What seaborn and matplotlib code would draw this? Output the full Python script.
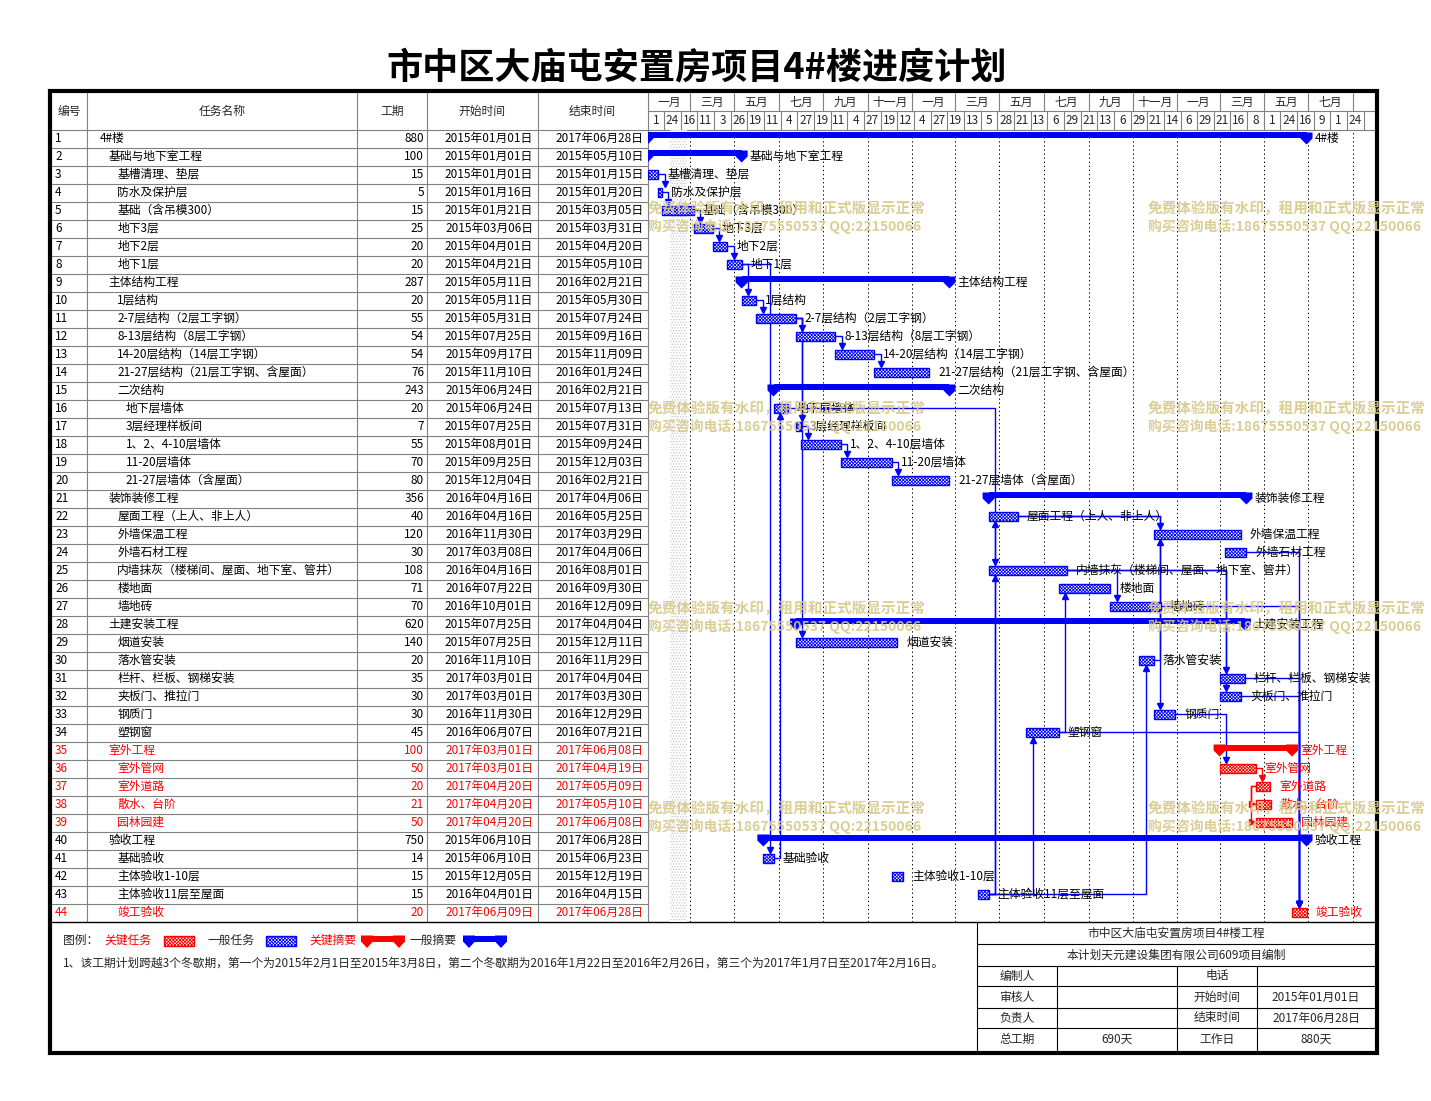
import numpy as np
import pandas as pd
import matplotlib
matplotlib.use('Agg')
import matplotlib.pyplot as plt
import seaborn as sns
from matplotlib.path import Path
from matplotlib.patches import Rectangle, Polygon

# ---------------- data ----------------
task_names = [
    '4#楼', '基础与地下室工程', '基槽清理、垫层', '防水及保护层', '基础（含吊模300）',
    '地下3层', '地下2层', '地下1层', '主体结构工程', '1层结构',
    '2-7层结构（2层工字钢）', '8-13层结构（8层工字钢）', '14-20层结构（14层工字钢）',
    '21-27层结构（21层工字钢、含屋面）', '二次结构', '地下层墙体', '3层经理样板间',
    '1、2、4-10层墙体', '11-20层墙体', '21-27层墙体（含屋面）', '装饰装修工程',
    '屋面工程（上人、非上人）', '外墙保温工程', '外墙石材工程',
    '内墙抹灰（楼梯间、屋面、地下室、管井）', '楼地面', '墙地砖', '土建安装工程',
    '烟道安装', '落水管安装', '栏杆、栏板、钢梯安装', '夹板门、推拉门', '钢质门', '塑钢窗',
    '室外工程', '室外管网', '室外道路', '散水、台阶', '园林园建', '验收工程',
    '基础验收', '主体验收1-10层', '主体验收11层至屋面', '竣工验收']
durations = [880, 100, 15, 5, 15, 25, 20, 20, 287, 20, 55, 54, 54, 76, 243, 20, 7, 55, 70, 80,
             356, 40, 120, 30, 108, 71, 70, 620, 140, 20, 35, 30, 30, 45, 100, 50, 20, 21, 50,
             750, 14, 15, 15, 20]
start_dates = [
    '2015-01-01', '2015-01-01', '2015-01-01', '2015-01-16', '2015-01-21', '2015-03-06',
    '2015-04-01', '2015-04-21', '2015-05-11', '2015-05-11', '2015-05-31', '2015-07-25',
    '2015-09-17', '2015-11-10', '2015-06-24', '2015-06-24', '2015-07-25', '2015-08-01',
    '2015-09-25', '2015-12-04', '2016-04-16', '2016-04-16', '2016-11-30', '2017-03-08',
    '2016-04-16', '2016-07-22', '2016-10-01', '2015-07-25', '2015-07-25', '2016-11-10',
    '2017-03-01', '2017-03-01', '2016-11-30', '2016-06-07', '2017-03-01', '2017-03-01',
    '2017-04-20', '2017-04-20', '2017-04-20', '2015-06-10', '2015-06-10', '2015-12-05',
    '2016-04-01', '2017-06-09']
end_dates = [
    '2017-06-28', '2015-05-10', '2015-01-15', '2015-01-20', '2015-03-05', '2015-03-31',
    '2015-04-20', '2015-05-10', '2016-02-21', '2015-05-30', '2015-07-24', '2015-09-16',
    '2015-11-09', '2016-01-24', '2016-02-21', '2015-07-13', '2015-07-31', '2015-09-24',
    '2015-12-03', '2016-02-21', '2017-04-06', '2016-05-25', '2017-03-29', '2017-04-06',
    '2016-08-01', '2016-09-30', '2016-12-09', '2017-04-04', '2015-12-11', '2016-11-29',
    '2017-04-04', '2017-03-30', '2016-12-29', '2016-07-21', '2017-06-08', '2017-04-19',
    '2017-05-09', '2017-05-10', '2017-06-08', '2017-06-28', '2015-06-23', '2015-12-19',
    '2016-04-15', '2017-06-28']
levels = [0, 1, 2, 2, 2, 2, 2, 2, 1, 2, 2, 2, 2, 2, 2, 3, 3, 3, 3, 3, 1, 2, 2, 2, 2, 2, 2,
          1, 2, 2, 2, 2, 2, 2, 1, 2, 2, 2, 2, 1, 2, 2, 2, 2]
summary_rows = [1, 2, 9, 15, 21, 28, 35, 40]
critical_rows = [35, 36, 37, 38, 39, 44]
links_fs = [(3, 4), (4, 5), (5, 6), (6, 7), (7, 8), (8, 10), (10, 11), (11, 12), (12, 13),
            (13, 14), (8, 41), (41, 16), (11, 17), (11, 29), (17, 18), (18, 19), (19, 20),
            (16, 25), (43, 22), (43, 25), (43, 30), (43, 34), (22, 23), (22, 33), (30, 23),
            (34, 26), (25, 27), (25, 31), (25, 32), (33, 36), (36, 37),
            (24, 44), (27, 44), (31, 44), (32, 44), (34, 44)]
links_ss = [(37, 38), (37, 39)]
month_labels = ['一月', '三月', '五月', '七月', '九月', '十一月',
                '一月', '三月', '五月', '七月', '九月', '十一月',
                '一月', '三月', '五月', '七月']
day_labels = [1, 24, 16, 11, 3, 26, 19, 11, 4, 27, 19, 11, 4, 27, 19, 12, 4, 27, 19, 13, 5, 28,
              21, 13, 6, 29, 21, 13, 6, 29, 21, 14, 6, 29, 21, 16, 8, 1, 24, 16, 9, 1, 24]
winter_shade = ('2015-02-01', '2015-02-24')
title = '市中区大庙屯安置房项目4#楼进度计划'
header_labels = ['编号', '任务名称', '工期', '开始时间', '结束时间']
legend_labels = ['关键任务', '一般任务', '关键摘要', '一般摘要']
note_text = ('1、该工期计划跨越3个冬歇期，第一个为2015年2月1日至2015年3月8日，第二个冬歇期为'
             '2016年1月22日至2016年2月26日，第三个为2017年1月7日至2017年2月16日。')
info_title = '市中区大庙屯安置房项目4#楼工程'
info_sub = '本计划天元建设集团有限公司609项目编制'
info_rows = [['编制人', '', '电话', ''],
             ['审核人', '', '开始时间', '2015年01月01日'],
             ['负责人', '', '结束时间', '2017年06月28日'],
             ['总工期', '690天', '工作日', '880天']]
watermark_lines = ['免费体验版有水印，租用和正式版显示正常', '购买咨询电话:18675550537 QQ:22150066']

# ---------------- style / layout ----------------
sns.set_theme(style='white')
plt.rcParams['font.family'] = ['Noto Sans CJK SC', 'DejaVu Sans']
plt.rcParams['hatch.linewidth'] = 0.6
BLUE, RED, GRAY = '#0000ff', '#ff0000', '#808080'
FS = 8.5
W, H = 1431, 1101
X0, X1 = 647.5, 1375.0
Y_ROW0, ROW_H = 129.5, 18.0
PXD = 0.7242
N = len(task_names)
HATCH = 'x' * 10

t0 = pd.Timestamp('2015-01-01')
df = pd.DataFrame({'row': np.arange(1, N + 1), 'name': task_names, 'dur': durations,
                   'start': start_dates, 'end': end_dates, 'level': levels})
df['s'] = (pd.to_datetime(df['start']) - t0).dt.days
df['e'] = (pd.to_datetime(df['end']) - t0).dt.days + 1
df['summary'] = df['row'].isin(summary_rows)
df['critical'] = df['row'].isin(critical_rows)
df['color'] = np.where(df['critical'], RED, BLUE)
S = dict(zip(df['row'], df['s']))
E = dict(zip(df['row'], df['e']))
CRIT = set(critical_rows)

fig = plt.figure(figsize=(W / 100, H / 100), dpi=100)
fig.patch.set_facecolor('white')


def rect(x0, y0, x1, y1):
    return [x0 / W, 1 - y1 / H, (x1 - x0) / W, (y1 - y0) / H]


bg = fig.add_axes([0, 0, 1, 1])
bg.set_xlim(0, W); bg.set_ylim(H, 0); bg.axis('off')

XMAX = (X1 - X0) / PXD
gx = fig.add_axes(rect(X0, Y_ROW0, X1, Y_ROW0 + N * ROW_H))
gx.set_xlim(0, XMAX); gx.set_ylim(N + 0.5, 0.5); gx.axis('off')
gx.patch.set_alpha(0)
hx = fig.add_axes(rect(X0, 92.5, X1, Y_ROW0))
hx.set_xlim(0, XMAX); hx.set_ylim(2, 0); hx.axis('off')
hx.patch.set_alpha(0)

# ---------------- title ----------------
bg.text(697, 68, title, fontsize=26, weight='bold', ha='center', va='center', color='black')

# ---------------- table grid ----------------
col_x = [52, 87, 357, 427, 537.5, 647.5]
for x in col_x[1:]:
    bg.plot([x, x], [92, Y_ROW0 + N * ROW_H], color=GRAY, lw=0.8)
for k in range(N):
    y = Y_ROW0 + k * ROW_H
    bg.plot([52, X1 if k == 0 else X0], [y, y], color=GRAY, lw=0.8)
for i, lab in enumerate(header_labels):
    bg.text((col_x[i] + col_x[i + 1]) / 2, 111, lab, fontsize=FS, ha='center', va='center')

for _, r in df.iterrows():
    y = Y_ROW0 + ROW_H * (r['row'] - 0.5)
    c = RED if r['critical'] else 'black'
    bg.text(55, y, str(r['row']), fontsize=FS, ha='left', va='center', color=c)
    bg.text(100 + 8.6 * r['level'], y, r['name'], fontsize=FS, ha='left', va='center', color=c)
    bg.text(424, y, str(r['dur']), fontsize=FS, ha='right', va='center', color=c)
    sd = pd.Timestamp(r['start']); ed = pd.Timestamp(r['end'])
    bg.text(533, y, sd.strftime('%Y年%m月%d日'), fontsize=FS, ha='right', va='center', color=c)
    bg.text(643.5, y, ed.strftime('%Y年%m月%d日'), fontsize=FS, ha='right', va='center', color=c)

# ---------------- gantt header ----------------
month_edges = (pd.date_range('2015-01-01', periods=len(month_labels) + 1, freq='2MS') - t0).days.values
hx.vlines(month_edges, 0, 1, color=GRAY, lw=0.8)
hx.axhline(1, color=GRAY, lw=0.8)
for i, lab in enumerate(month_labels):
    hx.text((month_edges[i] + month_edges[i + 1]) / 2, 0.52, lab, fontsize=FS, ha='center', va='center')
DAY_STEP = 23
day_edges = np.arange(len(day_labels) + 1) * DAY_STEP
hx.vlines(day_edges, 1, 2, color=GRAY, lw=0.8)
for i, lab in enumerate(day_labels):
    hx.text(day_edges[i] + DAY_STEP / 2, 1.52, str(lab), fontsize=FS, ha='center', va='center')

# ---------------- gantt body ----------------
ws = (pd.Timestamp(winter_shade[0]) - t0).days
we = (pd.Timestamp(winter_shade[1]) - t0).days
gx.axvspan(ws, we, facecolor='white', edgecolor='#c8c8c8', hatch='.' * 6, lw=0, zorder=0)
for d in month_edges[1:]:
    gx.axvline(d, color='black', lw=0.7, ls=(0, (1.4, 2.8)), zorder=0.5)

tasks = df[~df['summary']]
gx.barh(tasks['row'], tasks['e'] - tasks['s'], left=tasks['s'], height=0.5,
        facecolor='white', edgecolor=list(tasks['color']), hatch=HATCH, lw=1.0, zorder=3)

summ = df[df['summary']]
gx.barh(summ['row'] - 1 / 6, summ['e'] - summ['s'], left=summ['s'], height=1 / 3,
        color=list(summ['color']), lw=0, zorder=3)
pent = Path([(-6, 6), (6, 6), (6, 0), (0, -6), (-6, 0), (-6, 6)],
            [Path.MOVETO] + [Path.LINETO] * 4 + [Path.CLOSEPOLY])
ends_long = pd.concat([summ[['row', 's', 'critical']].rename(columns={'s': 'x'}),
                       summ[['row', 'e', 'critical']].rename(columns={'e': 'x'})])
sns.scatterplot(data=ends_long, x='x', y='row', hue='critical', palette={True: RED, False: BLUE},
                marker=pent, s=75, linewidth=0, legend=False, ax=gx, zorder=4)
gx.set_xlim(0, XMAX); gx.set_ylim(N + 0.5, 0.5); gx.axis('off')

# labels
for _, r in df.iterrows():
    off = (8 if r['summary'] else 9) / PXD
    c = RED if r['critical'] else 'black'
    gx.text(r['e'] + off, r['row'], r['name'], fontsize=FS, ha='left', va='center', color=c, zorder=5)

# connectors
LOFF = 6.5 / PXD
AR = 3.5 / ROW_H
for p, s in links_fs:
    c = RED if (p in CRIT and s in CRIT) else BLUE
    xe, xs = E[p], S[s]
    xt = max(xe, xs) + LOFF
    if s > p:
        yc, mk = s - 0.25 - AR, 'v'
    else:
        yc, mk = s + 0.25 + AR, '^'
    gx.plot([xe, xt, xt], [p, p, yc], color=c, lw=1.0, zorder=2)
    gx.plot([xt], [yc], marker=mk, ms=5, color=c, lw=0, zorder=4)
for p, s in links_ss:
    c = RED if (p in CRIT and s in CRIT) else BLUE
    xp, xs = S[p], S[s]
    xt = min(xp, xs) - 4.5 / PXD
    xa = xs - 3.5 / PXD
    gx.plot([xp, xt, xt, xa], [p, p, s, s], color=c, lw=1.0, zorder=2)
    gx.plot([xa], [s], marker='>', ms=5, color=c, lw=0, zorder=4)

# ---------------- bottom section ----------------
bg.plot([52, X1], [Y_ROW0 + N * ROW_H] * 2, color='black', lw=1.0)
ly = 940.5
bg.text(63, ly, '图例：', fontsize=FS, ha='left', va='center')
bg.text(104, ly, legend_labels[0], fontsize=FS, ha='left', va='center', color=RED)
bg.add_patch(Rectangle((164, 935.5), 30, 10.5, facecolor='white', edgecolor=RED, hatch=HATCH, lw=1))
bg.text(207, ly, legend_labels[1], fontsize=FS, ha='left', va='center')
bg.add_patch(Rectangle((266, 935.5), 30, 10.5, facecolor='white', edgecolor=BLUE, hatch=HATCH, lw=1))
bg.text(309, ly, legend_labels[2], fontsize=FS, ha='left', va='center', color=RED)
bg.text(409, ly, legend_labels[3], fontsize=FS, ha='left', va='center')
for x0, c in [(361, RED), (463, BLUE)]:
    bg.add_patch(Rectangle((x0, 935.5), 44, 6, color=c, lw=0))
    for px in (x0, x0 + 32):
        bg.add_patch(Polygon([(px, 935.5), (px + 12, 935.5), (px + 12, 941.5),
                              (px + 6, 948), (px, 941.5)], closed=True, color=c, lw=0))
bg.text(63, 963.5, note_text, fontsize=FS, ha='left', va='center')

# info table
ix = [977, 1057, 1177, 1257, 1375]
iy = [921.5, 944, 966, 986, 1008, 1028, 1050]
for y in iy[1:-1]:
    bg.plot([ix[0], ix[-1]], [y, y], color='black', lw=0.8)
bg.plot([ix[0], ix[0]], [iy[0], iy[-1]], color='black', lw=0.8)
for x in ix[1:-1]:
    bg.plot([x, x], [iy[2], iy[-1]], color='black', lw=0.8)
bg.text(1176, (iy[0] + iy[1]) / 2, info_title, fontsize=FS, ha='center', va='center')
bg.text(1176, (iy[1] + iy[2]) / 2, info_sub, fontsize=FS, ha='center', va='center')
for ri, row in enumerate(info_rows):
    yc = (iy[ri + 2] + iy[ri + 3]) / 2
    for ci, val in enumerate(row):
        if val:
            bg.text((ix[ci] + ix[ci + 1]) / 2, yc, val, fontsize=FS, ha='center', va='center')

# ---------------- overlay: frame + watermark ----------------
ov = fig.add_axes([0, 0, 1, 1])
ov.set_xlim(0, W); ov.set_ylim(H, 0); ov.axis('off'); ov.patch.set_alpha(0)
ov.add_patch(Rectangle((50, 90.5), 1326.5, 962, facecolor='none', edgecolor='black', lw=3.0))
for wy in [208, 408, 608, 808]:
    for wx in [648, 1148]:
        for li, txt in enumerate(watermark_lines):
            ov.text(wx, wy + 18 * li, txt, fontsize=10.5 if li == 0 else 10, weight='bold',
                    color='#d6c98a', alpha=0.9, ha='left', va='center', clip_on=False)

fig.savefig('out.png', dpi=100)
